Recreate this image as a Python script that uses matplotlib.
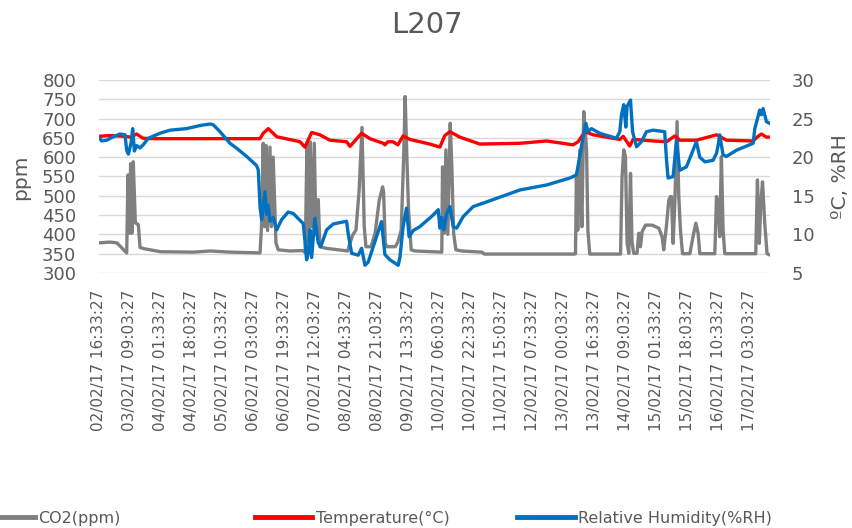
import matplotlib
matplotlib.use("Agg")
import matplotlib.pyplot as plt
from matplotlib.lines import Line2D

# hours since 02/02/17 16:33:27
co2_hours = [0, 6.1, 9.8, 15.0, 15.7, 16.4, 17.1, 17.8, 18.5, 19.6, 21.2, 22.1, 24.2, 33.1, 50.8,
             59.4, 70.0, 86.0, 86.8, 87.7, 88.5, 89.2, 90.0, 91.3, 92.1, 93.0, 94.5, 95.7, 101.9,
             108.7, 110.1, 111.0, 111.8, 112.7, 113.6, 114.9, 115.8, 117.0, 117.9, 121.1, 132.7,
             133.3, 135.3, 137.1, 138.8, 140.3, 141.5, 142.4, 145.1, 147.3, 149.5, 151.3, 151.8,
             152.7, 153.6, 158.0, 159.4, 161.2, 162.5, 163.3, 164.2, 165.1, 166.5, 168.6, 182.8,
             183.2, 184.1, 185.0, 186.0, 187.3, 188.2, 189.1, 190.3, 193.5, 204.1, 205.6, 253.5,
             254.0, 254.5, 255.2, 256.3, 257.4, 258.4, 259.3, 259.9, 260.6, 261.6, 278.0, 278.8,
             279.7, 280.6, 281.5, 282.4, 283.3, 284.1, 285.0, 286.8, 287.7, 288.6, 289.5, 291.3,
             294.8, 298.4, 300.1, 301.0, 302.4, 303.7, 304.6, 305.1, 306.0, 306.9, 308.1, 309.0,
             309.9, 311.0, 314.9, 316.6, 318.1, 319.3, 320.2, 328.2, 329.1, 330.0, 330.8, 331.7,
             332.6, 333.5, 350.0, 350.9, 351.9, 352.7, 353.6, 354.8, 356.0, 357.4]
co2_ppm = [378, 380, 378, 352, 554, 403, 583, 403, 588, 430, 425, 366, 363, 355, 354,
           357, 354, 352, 420, 636, 420, 630, 410, 626, 420, 600, 378, 360, 357,
           358, 353, 632, 380, 640, 420, 636, 400, 490, 368, 364, 357,
           368, 398, 411, 515, 677, 420, 368, 368, 403, 489, 523, 510,
           377, 368, 368, 380, 411, 601, 757, 600, 463, 360, 357, 354,
           575, 403, 619, 400, 688, 567, 403, 360, 357, 354, 349, 349,
           350, 549, 411, 619, 420, 718, 662, 619, 411, 349, 349, 549,
           619, 602, 377, 351, 558, 380, 351, 351, 403, 368, 407, 424,
           424, 416, 394, 360, 420, 489, 498, 498, 377, 480, 692, 500,
           411, 350, 350, 394, 429, 403, 350, 350, 498, 480, 394, 601,
           411, 350, 350, 541, 377, 480, 536, 429, 350, 347]

temp_hours = [0, 6.1, 14.1, 17.3, 20.3, 23.7, 29.0, 54.0, 86.0, 87.7, 90.4, 94.9, 107.3, 109.9,
              113.5, 117.9, 123.2, 132.1, 133.9, 140.1, 144.5, 151.6, 152.5, 154.1, 156.8, 159.4,
              162.2, 165.8, 176.5, 181.8, 184.4, 187.1, 192.4, 203.1, 224.4, 238.6, 252.7, 255.4,
              259.0, 263.4, 277.6, 279.4, 282.9, 284.7, 295.3, 302.5, 306.9, 309.5, 318.4, 329.1,
              334.4, 348.6, 351.2, 353.0, 355.7, 357.4]
temp_c = [22.7, 22.8, 22.7, 22.6, 23.0, 22.45, 22.4, 22.4, 22.4, 23.1, 23.7, 22.65, 22.0, 21.3,
          23.2, 22.9, 22.2, 22.0, 21.4, 23.1, 22.4, 21.8, 21.6, 22.0, 22.0, 21.6,
          22.75, 22.3, 21.7, 21.3, 22.8, 23.3, 22.6, 21.7, 21.8, 22.1, 21.6, 22.0,
          23.3, 22.9, 22.3, 22.7, 21.45, 22.3, 22.1, 22.0, 22.75, 22.2, 22.2, 22.9,
          22.2, 22.1, 22.7, 23.0, 22.6, 22.6]

rh_hours = [0, 1.7, 4.4, 7.9, 11.4, 14.1, 15.0, 15.9, 17.3, 18.2, 19.1, 20.3, 22.1, 23.8, 26.5,
            32.7, 38.1, 46.9, 54.0, 59.4, 61.1, 64.7, 70.0, 73.6, 78.9, 84.2, 85.1, 86.0, 86.9,
            88.6, 89.5, 90.4, 91.3, 93.0, 94.9, 97.5, 101.0, 103.7, 109.0, 109.9, 110.8, 111.7,
            112.6, 113.5, 115.2, 117.0, 118.3, 121.5, 125.0, 132.1, 133.0, 134.8, 138.3, 140.1,
            141.9, 143.6, 150.7, 152.5, 155.2, 159.6, 160.5, 162.2, 164.0, 165.4, 167.6, 171.1,
            178.2, 180.9, 181.8, 182.7, 183.9, 185.3, 187.1, 188.9, 190.7, 194.2, 199.5, 206.6,
            224.4, 238.6, 251.0, 254.5, 255.9, 257.2, 258.1, 259.5, 260.7, 262.5, 266.9, 275.8,
            277.6, 278.5, 279.7, 280.8, 281.5, 283.3, 284.4, 286.5, 289.1, 291.8, 295.3, 301.5,
            302.5, 303.3, 306.0, 307.8, 309.5, 313.1, 318.4, 320.2, 322.9, 327.3, 329.1, 330.0,
            330.8, 332.6, 334.4, 339.7, 348.6, 349.5, 350.7, 352.1, 353.0, 353.9, 355.7, 357.4]
rh_pct = [22.65, 22.1, 22.2, 22.65, 23.0, 22.9, 20.9, 20.4, 21.8, 23.7, 20.8, 21.5, 21.2, 21.6, 22.45,
          23.1, 23.5, 23.7, 24.1, 24.3, 24.2, 23.3, 21.8, 21.15, 20.1, 18.9, 18.3, 13.6, 11.9,
          15.5, 12.6, 13.8, 11.7, 12.2, 10.6, 11.9, 12.9, 12.7, 11.4, 9.3, 6.7, 7.6,
          10.6, 7.0, 12.1, 8.9, 8.4, 10.6, 11.35, 11.7, 10.0, 7.55, 7.3, 8.2,
          6.0, 6.4, 11.65, 7.4, 6.7, 6.0, 7.0, 11.0, 13.4, 9.7, 10.5, 11.0,
          12.5, 13.2, 10.8, 12.2, 10.6, 12.6, 13.6, 11.0, 10.8, 12.3, 13.6, 14.2,
          15.75, 16.4, 17.3, 17.7, 19.6, 21.4, 22.7, 24.4, 23.3, 23.7, 23.1, 22.45,
          23.3, 25.5, 26.8, 23.9, 26.6, 27.4, 23.3, 21.35, 22.0, 23.3, 23.5, 23.3,
          19.6, 17.3, 17.5, 22.2, 18.3, 18.75, 22.0, 20.0, 19.4, 19.6, 20.5, 21.6,
          22.9, 20.3, 20.1, 20.9, 21.8, 23.7, 24.8, 26.1, 25.5, 26.3, 24.6, 24.4]

tick_hours = [16.5 * i for i in range(22)]
tick_labels = ['02/02/17 16:33:27', '03/02/17 09:03:27', '04/02/17 01:33:27', '04/02/17 18:03:27',
               '05/02/17 10:33:27', '06/02/17 03:03:27', '06/02/17 19:33:27', '07/02/17 12:03:27',
               '08/02/17 04:33:27', '08/02/17 21:03:27', '09/02/17 13:33:27', '10/02/17 06:03:27',
               '10/02/17 22:33:27', '11/02/17 15:03:27', '12/02/17 07:33:27', '13/02/17 00:03:27',
               '13/02/17 16:33:27', '14/02/17 09:03:27', '15/02/17 01:33:27', '15/02/17 18:03:27',
               '16/02/17 10:33:27', '17/02/17 03:03:27']

TXT = '#595959'
GRAY, RED, BLUE = '#808080', '#FF0000', '#0070C0'

fig = plt.figure(figsize=(8.53, 5.28), dpi=100)
ax = fig.add_axes([0.1155, 0.483, 0.787, 0.3655])
ax2 = ax.twinx()

ax.plot(co2_hours, co2_ppm, color=GRAY, lw=2.4, solid_joinstyle='round')
ax2.plot(temp_hours, temp_c, color=RED, lw=2.4, solid_joinstyle='round')
ax2.plot(rh_hours, rh_pct, color=BLUE, lw=2.4, solid_joinstyle='round')

ax.set_xlim(0, 357.5)
ax.set_ylim(300, 800)
ax2.set_ylim(5, 30)
ax.set_yticks(range(300, 801, 50))
ax2.set_yticks(range(5, 31, 5))
ax.set_xticks(tick_hours)
ax.set_xticklabels(tick_labels, rotation=90, fontsize=11, color=TXT)
ax.tick_params(axis='x', length=0, pad=12)
ax.tick_params(axis='y', length=0, pad=16, labelsize=13, labelcolor=TXT)
ax2.tick_params(axis='y', length=0, pad=16, labelsize=13, labelcolor=TXT)
ax.grid(axis='y', color='#D9D9D9', lw=1)
ax.set_axisbelow(True)
for a in (ax, ax2):
    for s in a.spines.values():
        s.set_visible(False)

fig.text(0.5, 0.953, 'L207', ha='center', va='center', fontsize=21, color=TXT)
fig.text(21 / 853, 1 - 177 / 528, 'ppm', rotation=90, ha='center', va='center',
         fontsize=14.5, color=TXT)
fig.text(841 / 853, 1 - 177 / 528, 'ºC, %RH', rotation=90, ha='center', va='center',
         fontsize=14.5, color=TXT)

entries = [(GRAY, 'CO2(ppm)', -23), (RED, 'Temperature(°C)', 255), (BLUE, 'Relative Humidity(%RH)', 517)]
for col, lab, xl in entries:
    fig.legend([Line2D([], [], color=col, lw=3.5)], [lab], loc='center left',
               bbox_to_anchor=(xl / 853, 0.018), frameon=False, fontsize=11.5,
               handlelength=3.6, handletextpad=0.2, borderpad=0, borderaxespad=0,
               labelcolor=TXT)

fig.savefig('out.png', dpi=100)
